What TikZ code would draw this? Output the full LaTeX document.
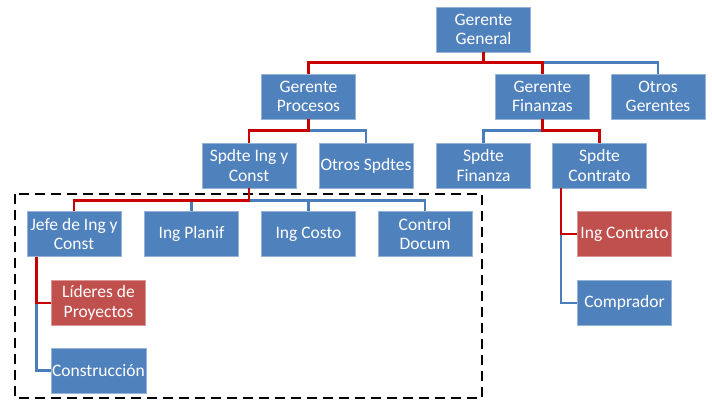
\documentclass[tikz,border=0pt]{standalone}
\usepackage{fontspec}
\setmainfont{Carlito}
\usepackage{tikz}

\definecolor{cajaazul}{HTML}{4F81BD}
\definecolor{cajaroja}{HTML}{C0504D}
\definecolor{lineaazul}{HTML}{4A7EBB}
\definecolor{linearoja}{HTML}{C80000}

\tikzset{
    caja/.style={rectangle, fill=cajaazul, draw=cajaazul!60!white, line width=0.8pt,
        text=white, minimum width=94pt, minimum height=45pt, inner sep=1pt,
        align=center, font=\fontsize{17.5}{19.5}\selectfont},
    cajaroja/.style={caja, fill=cajaroja, draw=cajaroja!60!white},
    azul/.style={draw=lineaazul, line width=2.6pt},
    roja/.style={draw=linearoja, line width=2.6pt}
}

\begin{document}
\begin{tikzpicture}[x=1pt,y=-1pt]
\useasboundingbox (0,0) rectangle (712,402);

% grupo de ingenieria y construccion
\draw[black, line width=2.8pt, dash pattern=on 10pt off 6pt] (15,194) rectangle (482,398);

\node[caja] (gg) at (483.5,29.5) {Gerente\\General};

\node[caja] (gp) at (308.5,96.5) {Gerente\\Procesos};
\node[caja] (gf) at (542.5,96.5) {Gerente\\Finanzas};
\node[caja] (og) at (658,96.5) {Otros\\Gerentes};

\node[caja] (sic) at (249,165.5) {Spdte Ing y\\Const};
\node[caja] (os) at (366,165.5) {Otros Spdtes};
\node[caja] (sf) at (483.5,165.5) {Spdte\\Finanza};
\node[caja] (sc) at (599.5,165.5) {Spdte\\Contrato};

\node[caja] (jefe) at (74,234) {Jefe de Ing y\\Const};
\node[caja] (planif) at (191.5,234) {Ing Planif};
\node[caja] (costo) at (308.5,234) {Ing Costo};
\node[caja] (docum) at (425,234) {Control\\Docum};

\node[cajaroja] (lider) at (98.5,303) {Líderes de\\Proyectos};
\node[caja] (constr) at (98.5,370.5) {Construcción};

\node[cajaroja] (ingc) at (624.5,234) {Ing Contrato};
\node[caja] (compr) at (624.5,303) {Comprador};

% conectores
\draw[azul] (gg.south) -- ++(0,10) -| (og.north);
\draw[roja] (gg.south) -- ++(0,10) -| (gp.north)
            (gg.south) -- ++(0,10) -| (gf.north);

\draw[azul] (gp.south) -- ++(0,11) -| (os.north);
\draw[roja] (gp.south) -- ++(0,11) -| (sic.north);
\draw[azul] (gf.south) -- ++(0,11) -| (sf.north);
\draw[roja] (gf.south) -- ++(0,11) -| (sc.north);

\foreach \hijo in {planif,costo,docum}
    \draw[azul] (sic.south) -- ++(0,12) -| (\hijo.north);
\draw[roja] (sic.south) -- ++(0,12) -| (jefe.north);

\draw[azul] ([xshift=10pt]jefe.south west) |- (constr.west);
\draw[roja] ([xshift=10pt]jefe.south west) |- (lider.west);

\draw[azul] ([xshift=9pt]sc.south west) |- (compr.west);
\draw[roja] ([xshift=9pt]sc.south west) |- (ingc.west);
\end{tikzpicture}
\end{document}
